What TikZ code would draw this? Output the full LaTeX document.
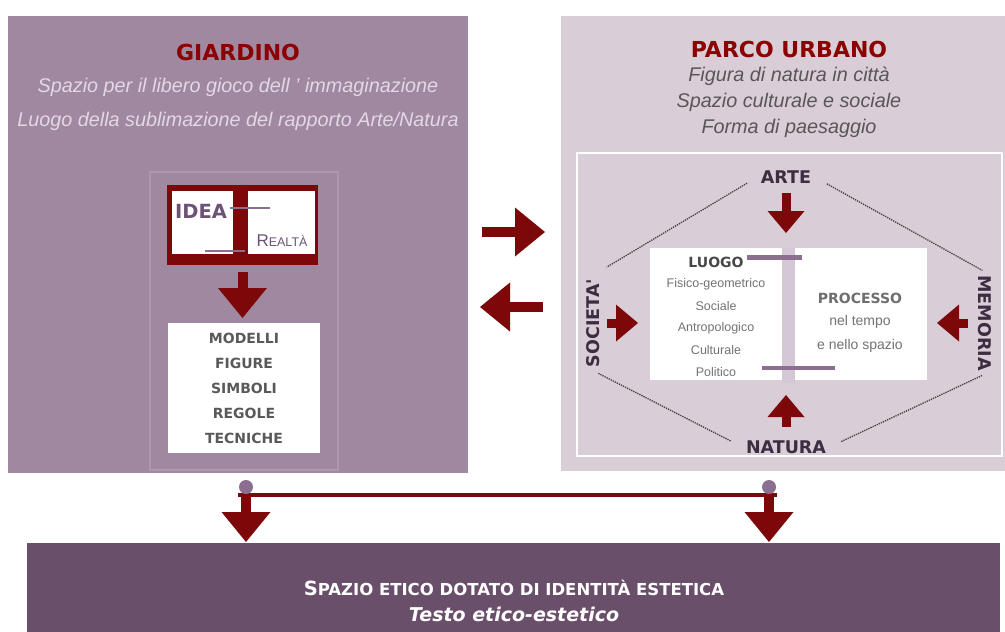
\documentclass[tikz,border=0pt]{standalone}
\usepackage{fontspec}
\setmainfont{Liberation Sans}
\newfontfamily\wideface{DejaVu Sans}
\usetikzlibrary{arrows.meta}
\definecolor{gardenmauve}{HTML}{A088A0}
\definecolor{parkmauve}{HTML}{D9CDD8}
\definecolor{ethicplum}{HTML}{6A4F6B}
\definecolor{framemauve}{HTML}{AD98AD}
\definecolor{darkred}{HTML}{7D080A}
\definecolor{titlered}{HTML}{8C0000}
\definecolor{lilac}{HTML}{E3D8E6}
\definecolor{darkgrey}{HTML}{5A555A}
\definecolor{inkpurple}{HTML}{3C2D41}
\definecolor{ideapurple}{HTML}{6E5275}
\definecolor{markmauve}{HTML}{8C6E91}
\definecolor{barmauve}{HTML}{D5C8D6}
\tikzstyle{panel} = [
    rectangle,
    anchor=north west,
    inner sep=0pt,
    outer sep=0pt
]
\tikzstyle{title} = [
    font=\wideface\bfseries\fontsize{22}{24}\selectfont,
    text=titlered
]
\tikzstyle{subtitle} = [
    font=\itshape\fontsize{19.8}{22}\selectfont
]
\tikzstyle{keyword} = [
    font=\wideface\bfseries\fontsize{17.5}{19}\selectfont,
    text=inkpurple
]
\tikzstyle{listbold} = [
    font=\wideface\bfseries\fontsize{14}{16}\selectfont,
    text=black!65
]
\tikzstyle{listitem} = [
    font=\fontsize{12.5}{14}\selectfont,
    text=black!55
]
\tikzstyle{bigarrow} = [
    draw=darkred,
    line width=10pt,
    -{Triangle[width=49pt,length=30pt,line width=0pt]}
]
\tikzstyle{smallarrow} = [
    draw=darkred,
    line width=9pt,
    -{Triangle[width=37pt,length=22pt,line width=0pt]}
]
\tikzstyle{dotline} = [
    draw=black!75,
    line width=1.3pt,
    densely dotted
]
\tikzstyle{dot} = [
    circle,
    fill=markmauve,
    minimum size=14pt,
    inner sep=0pt
]

\begin{document}
\begin{tikzpicture}[x=1pt, y=-1pt, node distance=25pt]
\useasboundingbox (0,0) rectangle (1005,632);

% panels
\node (giardino) [panel, fill=gardenmauve, minimum width=460pt, minimum height=457pt] at (8,16) {};
\node (parco) [panel, fill=parkmauve, minimum width=444pt, minimum height=455pt] at (561,16) {};
\node (etico) [panel, fill=ethicplum, minimum width=973pt, minimum height=89pt] at (27,543) {};

\draw [framemauve, line width=1.5pt] (150,172) rectangle (338,470);
\draw [white, line width=1.5pt] (577,153) rectangle (1002,456);

% giardino
\node (giardinotitle) [title] at (238,52) {GIARDINO};
\node (gioco) [subtitle, text=lilac, node distance=35.5pt, below of=giardinotitle]
{Spazio per il libero gioco dell ' immaginazione};
\node (sublimazione) [subtitle, text=lilac, node distance=34pt, below of=gioco]
{Luogo della sublimazione del rapporto Arte/Natura};

\node (ideabox) [panel, fill=darkred, minimum width=151pt, minimum height=80pt] at (167,185) {};
\fill [white] (172,191) rectangle (233,254);
\fill [white] (248,191) rectangle (315,254);
\node (idea) [font=\wideface\bfseries\fontsize{19.5}{21}\selectfont, text=ideapurple] at (201,211) {IDEA};
\node (realta) [text=ideapurple] at (282,241)
{{\fontsize{17}{18}\selectfont R}{\fontsize{12.5}{14}\selectfont EALTÀ}};
\draw [markmauve, line width=2.5pt] (230,208) -- (270,208);
\draw [markmauve, line width=2.5pt] (205,251) -- (245,251);

\node (strumenti) [panel, fill=white, minimum width=152pt, minimum height=130pt] at (168,323) {};
\node (modelli) [listbold] at (244,338) {MODELLI};
\node (figure) [listbold, below of=modelli] {FIGURE};
\node (simboli) [listbold, below of=figure] {SIMBOLI};
\node (regole) [listbold, below of=simboli] {REGOLE};
\node (tecniche) [listbold, below of=regole] {TECNICHE};

\draw [bigarrow, shorten <=7pt, shorten >=5pt] (ideabox.south) -- (ideabox.south |- strumenti.north);

% parco urbano
\node (parcotitle) [title] at (789,49) {PARCO URBANO};
\node (figura) [subtitle, text=darkgrey, node distance=27pt, below of=parcotitle]
{Figura di natura in città};
\node (culturale) [subtitle, text=darkgrey, node distance=26pt, below of=figura]
{Spazio culturale e sociale};
\node (forma) [subtitle, text=darkgrey, node distance=26pt, below of=culturale]
{Forma di paesaggio};

\node (luogobox) [panel, fill=white, minimum width=277pt, minimum height=132pt] at (650,248) {};
\fill [barmauve] (782,248) rectangle (795,383);
\draw [markmauve, line width=5pt] (747,257) -- (802,257);
\draw [markmauve, line width=4pt] (762,368) -- (835,368);

\node (luogo) [listbold, text=black!72] at (716,262) {LUOGO};
\node (fisico) [listitem, node distance=22pt, below of=luogo] {Fisico-geometrico};
\node (sociale) [listitem, node distance=22pt, below of=fisico] {Sociale};
\node (antropologico) [listitem, node distance=22pt, below of=sociale] {Antropologico};
\node (culturali) [listitem, node distance=22pt, below of=antropologico] {Culturale};
\node (politico) [listitem, node distance=22pt, below of=culturali] {Politico};

\node (processo) [listbold, text=black!57] at (860,298) {PROCESSO};
\node (tempo) [listitem, font=\fontsize{14}{16}\selectfont, node distance=23.5pt, below of=processo] {nel tempo};
\node (spazio) [listitem, font=\fontsize{14}{16}\selectfont, node distance=24pt, below of=tempo] {e nello spazio};

\node (arte) [keyword] at (786,177) {ARTE};
\node (natura) [keyword] at (786,447) {NATURA};
\node (societa) [keyword, rotate=90] at (593,323) {SOCIETA'};
\node (memoria) [keyword, rotate=-90] at (985,323) {MEMORIA};

\draw [smallarrow, shorten <=6pt, shorten >=15pt] (arte.south) -- (arte.south |- luogobox.north);
\draw [smallarrow, shorten <=10pt, shorten >=15pt] (natura.north) -- (natura.north |- luogobox.south);
\draw [smallarrow, shorten <=4pt, shorten >=12pt] (societa.south) -- (societa.south -| luogobox.west);
\draw [smallarrow, shorten <=7pt, shorten >=10pt] (memoria.south) -- (memoria.south -| luogobox.east);

\draw [dotline, shorten <=12pt, shorten >=16pt] (arte.west) -- (societa.east);
\draw [dotline, shorten <=14pt, shorten >=3pt] (arte.east) -- (memoria.west);
\draw [dotline, shorten <=6pt, shorten >=13pt] (societa.west) -- (natura.west);
\draw [dotline, shorten <=13pt, shorten >=3pt] (natura.east) -- (memoria.east);

% between the panels
\coordinate (gardenout) at (482,232);
\coordinate (parkin) at (545,232);
\coordinate (parkout) at (543,307);
\coordinate (gardenin) at (480,307);
\draw [bigarrow] (gardenout) -- (parkin);
\draw [bigarrow] (parkout) -- (gardenin);

% spazio etico
\coordinate (gjoin) at (246,495);
\coordinate (pjoin) at (769,495);
\draw [darkred, line width=4.5pt] ([xshift=-8pt]gjoin) -- ([xshift=8pt]pjoin);
\node (gdot) [dot] at (246,487) {};
\node (pdot) [dot] at (769,487) {};
\draw [bigarrow, shorten >=1pt] (gjoin) -- (gjoin |- etico.north);
\draw [bigarrow, shorten >=1pt] (pjoin) -- (pjoin |- etico.north);

\node (spazioetico) [font=\wideface\bfseries\fontsize{16.5}{18}\selectfont, text=white] at (514,588)
{{\fontsize{19.5}{20}\selectfont S}PAZIO ETICO DOTATO DI IDENTITÀ ESTETICA};
\node (testo) [font=\wideface\bfseries\itshape\fontsize{19}{21}\selectfont, text=white, node distance=26pt, below of=spazioetico]
{Testo etico-estetico};

\end{tikzpicture}
\end{document}
